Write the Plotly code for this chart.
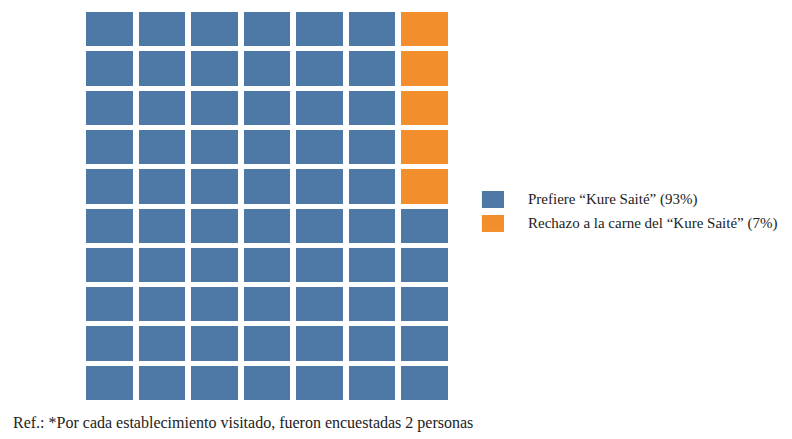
import plotly.graph_objects as go

categorias = ['Prefiere “Kure Saité” (93%)', 'Rechazo a la carne del “Kure Saité” (7%)']
cantidades = [65, 5]
colores = ['#4e79a7', '#f28e2b']
n_cols, n_filas = 7, 10
nota = 'Ref.: *Por cada establecimiento visitado, fueron encuestadas 2 personas'

# llenar la grilla columna por columna, de abajo hacia arriba
celdas = []
for i, n in enumerate(cantidades):
    celdas += [i] * n
z = [[None] * n_cols for _ in range(n_filas)]
for k, v in enumerate(celdas):
    z[k % n_filas][k // n_filas] = v

fig = go.Figure()
fig.add_trace(go.Heatmap(
    z=z, x=list(range(n_cols)), y=list(range(n_filas)),
    zmin=0, zmax=1, xgap=6, ygap=5, showscale=False,
    colorscale=[[0, colores[0]], [0.5, colores[0]], [0.5, colores[1]], [1, colores[1]]],
    hoverinfo='skip',
))

# leyenda dibujada a mano (cuadros rectangulares)
for i, (nombre, col) in enumerate(zip(categorias, colores)):
    y0 = 0.5394 - i * 0.061
    fig.add_shape(type='rect', xref='paper', yref='paper',
                  x0=1.084, x1=1.144, y0=y0 - 0.0432, y1=y0,
                  fillcolor=col, line_width=0)
    fig.add_annotation(text=nombre, xref='paper', yref='paper',
                       x=1.2045, y=y0 - 0.0216, xanchor='left', yanchor='middle',
                       showarrow=False)

fig.update_xaxes(visible=False, range=[-0.5, n_cols - 0.5])
fig.update_yaxes(visible=False, range=[-0.5, n_filas - 0.5])
fig.add_annotation(
    text=nota, xref='paper', yref='paper', x=-0.196, y=-0.052,
    xanchor='left', yanchor='middle', showarrow=False,
    font=dict(size=16),
)
fig.update_layout(
    width=792, height=439,
    margin=dict(l=75, r=349, t=2, b=44),
    plot_bgcolor='white', paper_bgcolor='white',
    font=dict(family='Liberation Serif', size=15, color='#222'),
    showlegend=False,
)
fig.write_html('out.html')
